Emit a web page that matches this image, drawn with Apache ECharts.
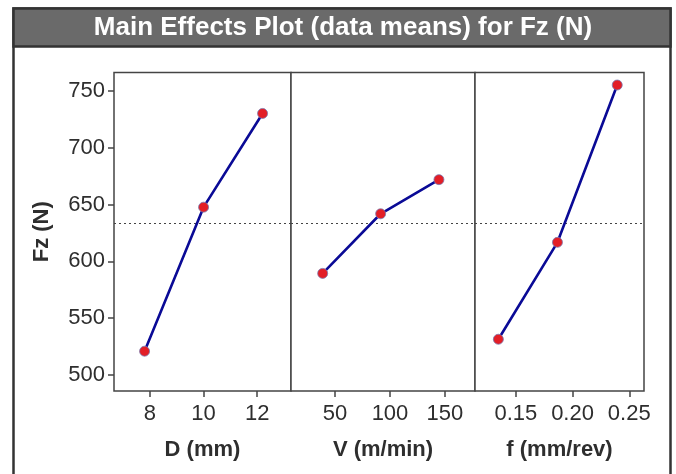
<!DOCTYPE html>
<html><head><meta charset="utf-8">
<script src="https://cdn.jsdelivr.net/npm/echarts@6/dist/echarts.min.js"></script>
<style>html,body{margin:0;padding:0;background:#fff}#c{width:676px;height:474px}</style>
</head><body><div id="c"></div>
<script>
// ---- data ----
const titleText = 'Main Effects Plot (data means) for Fz (N)';
const yName = 'Fz (N)';
const yTicks = [500, 550, 600, 650, 700, 750];

const D_name = 'D (mm)';
const D_levels = [7.8, 10, 12.2];
const D_means = [521, 647.6, 730];
const D_ticks = [8, 10, 12];

const V_name = 'V (m/min)';
const V_levels = [38.8, 91.5, 144.5];
const V_means = [589.4, 641.8, 671.8];
const V_ticks = [50, 100, 150];

const f_name = 'f (mm/rev)';
const f_levels = [0.1346, 0.1867, 0.2394];
const f_means = [531.5, 616.7, 755];
const f_ticks = [0.15, 0.20, 0.25];

const allMeans = D_means.concat(V_means, f_means);
const grandMean = allMeans.reduce((a, b) => a + b, 0) / allMeans.length;

// ---- chart ----
const FONT = '"Liberation Sans", Arial, sans-serif';
const TXT = '#2e2e2e';
const AX = '#444';
const panels = [
  {name: D_name, x: D_levels, y: D_means, ticks: D_ticks, min: 6.66, max: 13.26, left: 114, width: 177, fmt: v => String(v)},
  {name: V_name, x: V_levels, y: V_means, ticks: V_ticks, min: 10, max: 177.3, left: 291, width: 184, fmt: v => String(v)},
  {name: f_name, x: f_levels, y: f_means, ticks: f_ticks, min: 0.114, max: 0.263, left: 475, width: 169, fmt: v => v.toFixed(2)}
];
const TOP = 72.5, HEIGHT = 318.5, YMIN = 486, YMAX = 766;

const grid = [], xAxis = [], yAxis = [], series = [];
panels.forEach((p, i) => {
  grid.push({left: p.left, top: TOP, width: p.width, height: HEIGHT, show: true,
    borderColor: AX, borderWidth: 1.5, backgroundColor: '#fff', containLabel: false, outerBoundsMode: 'none'});
  xAxis.push({type: 'value', gridIndex: i, min: p.min, max: p.max,
    name: p.name, nameLocation: 'middle', nameGap: 48,
    nameTextStyle: {fontFamily: FONT, fontSize: 22, fontWeight: 'bold', color: TXT},
    axisLine: {show: false}, splitLine: {show: false},
    axisTick: {show: true, inside: false, length: 6, lineStyle: {color: AX, width: 1.5}, customValues: p.ticks},
    axisLabel: {show: true, margin: 12, fontFamily: FONT, fontSize: 22, color: TXT, customValues: p.ticks,
      formatter: p.fmt, hideOverlap: false, showMinLabel: true, showMaxLabel: true}
  });
  yAxis.push({type: 'value', gridIndex: i, min: YMIN, max: YMAX,
    name: i === 0 ? yName : '', nameLocation: 'middle', nameGap: 61,
    nameTextStyle: {fontFamily: FONT, fontSize: 22, fontWeight: 'bold', color: TXT},
    axisLine: {show: false}, splitLine: {show: false},
    axisTick: {show: i === 0, inside: false, length: 6, lineStyle: {color: AX, width: 1.5}, customValues: yTicks},
    axisLabel: {show: i === 0, margin: 9, fontFamily: FONT, fontSize: 22, color: TXT, customValues: yTicks,
      hideOverlap: false}
  });
  series.push({type: 'line', xAxisIndex: i, yAxisIndex: i,
    data: p.x.map((v, k) => [v, p.y[k]]),
    symbol: 'circle', symbolSize: 10, z: 3,
    itemStyle: {color: '#e31e26', borderColor: '#7a7ab0', borderWidth: 0.8},
    lineStyle: {color: '#0a0a96', width: 2.6},
    emphasis: {disabled: true}, silent: true, animation: false,
    markLine: {silent: true, symbol: 'none', animation: false, z: 1,
      label: {show: false},
      lineStyle: {color: '#444', width: 1.2, type: [2, 3]},
      data: [{yAxis: grandMean}]}
  });
});

const chart = echarts.init(document.getElementById('c'), null, {renderer: 'canvas'});
chart.setOption({
  animation: false,
  backgroundColor: '#fff',
  grid, xAxis, yAxis, series,
  graphic: [
    {type: 'rect', z: 0, shape: {x: 13.5, y: 8.5, width: 657, height: 480},
      style: {fill: 'none', stroke: '#333', lineWidth: 2.5}},
    {type: 'rect', z: 1, shape: {x: 13.5, y: 8.5, width: 657, height: 38},
      style: {fill: '#6a6a6a', stroke: '#333', lineWidth: 2.5}},
    {type: 'text', z: 2, x: 343, y: 28,
      style: {text: titleText, fill: '#fff', font: 'bold 26px ' + FONT, align: 'center', verticalAlign: 'middle'}}
  ]
});
</script></body></html>
